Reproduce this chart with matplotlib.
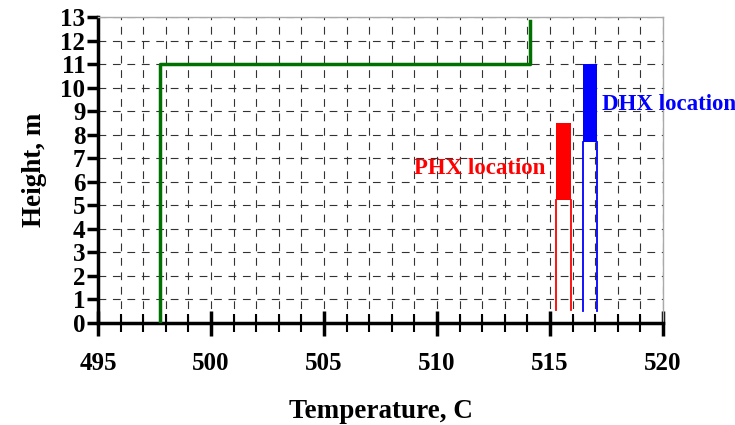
import matplotlib
matplotlib.use("Agg")
import matplotlib.pyplot as plt
from matplotlib.ticker import MultipleLocator

# green temperature profile
temp_profile = [497.75, 497.75, 514.1, 514.1]
height_profile = [0.0, 11.0, 11.0, 12.85]

# heat exchanger locations: x edges, thin-line bottom, filled bottom, top
phx_x = [515.26, 515.95]
phx_y = [0.55, 5.22, 8.48]
dhx_x = [516.47, 517.1]
dhx_y = [0.52, 7.7, 11.0]

plt.rcParams['font.family'] = ['Liberation Serif', 'DejaVu Serif']
plt.rcParams['font.weight'] = 'bold'

fig = plt.figure(figsize=(7.35, 4.25), dpi=100)
ax = fig.add_axes([0.1333, 0.24, 0.7687, 0.72])

# grid
ax.xaxis.set_major_locator(MultipleLocator(5))
ax.xaxis.set_minor_locator(MultipleLocator(1))
ax.yaxis.set_major_locator(MultipleLocator(1))
ax.grid(which='both', color='#333333', linestyle=(0, (7, 6)), linewidth=0.8)
ax.set_axisbelow(True)

ax.plot(temp_profile, height_profile, color='#007000', linewidth=2.5, zorder=3)

# PHX
for xx in phx_x:
    ax.plot([xx, xx], [phx_y[0], phx_y[1]], color='red', linewidth=1.3, zorder=3)
ax.fill_between(phx_x, phx_y[1], phx_y[2], color='red', zorder=3, linewidth=0)
# DHX
for xx in dhx_x:
    ax.plot([xx, xx], [dhx_y[0], dhx_y[1]], color='blue', linewidth=1.3, zorder=3)
ax.fill_between(dhx_x, dhx_y[1], dhx_y[2], color='blue', zorder=3, linewidth=0)

ax.text(514.8, 6.55, "PHX location", color='red', fontsize=16.5, fontweight='bold',
        ha='right', va='center')
ax.text(517.3, 9.3, "DHX location", color='blue', fontsize=16.5, fontweight='bold',
        ha='left', va='center', clip_on=False)

ax.set_xlim(495, 520)
ax.set_ylim(0, 13)

ax.set_xlabel("Temperature, C", fontsize=19.5, fontweight='bold', labelpad=17)
ax.set_ylabel("Height, m", fontsize=19.5, fontweight='bold', labelpad=10)

ax.tick_params(axis='x', which='major', direction='inout', length=18, width=2.5,
               labelsize=18, pad=12)
ax.tick_params(axis='x', which='minor', direction='inout', length=13, width=1.5)
ax.tick_params(axis='y', which='major', direction='out', length=8, width=2.5,
               labelsize=18, pad=1)

for side in ['left', 'bottom']:
    ax.spines[side].set_linewidth(2.5)
for side in ['top', 'right']:
    ax.spines[side].set_color('#aaaaaa')
    ax.spines[side].set_linewidth(1)

for lab in ax.get_xticklabels() + ax.get_yticklabels():
    lab.set_fontweight('bold')

fig.savefig("out.png", dpi=100)
